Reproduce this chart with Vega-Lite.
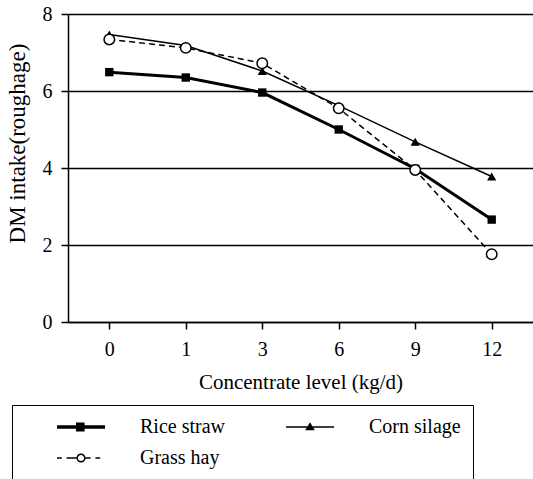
{
  "$schema": "https://vega.github.io/schema/vega-lite/v6.json",
  "width": 465,
  "height": 308,
  "autosize": {"type": "none"},
  "padding": {"left": 68, "top": 14, "right": 0, "bottom": 157},
  "background": "white",
  "config": {
    "view": {"stroke": null},
    "font": "Liberation Serif",
    "axis": {
      "labelFont": "Liberation Serif",
      "titleFont": "Liberation Serif",
      "labelColor": "black",
      "titleColor": "black",
      "titleFontWeight": "normal",
      "domainColor": "black",
      "domainWidth": 1.5,
      "tickColor": "black",
      "tickWidth": 1.5,
      "tickSize": 7
    }
  },
  "data": {
    "values": [
      {"level": 0, "series": "Rice straw", "intake": 6.49},
      {"level": 1, "series": "Rice straw", "intake": 6.35},
      {"level": 3, "series": "Rice straw", "intake": 5.96},
      {"level": 6, "series": "Rice straw", "intake": 5.0},
      {"level": 9, "series": "Rice straw", "intake": 3.98},
      {"level": 12, "series": "Rice straw", "intake": 2.66},
      {"level": 0, "series": "Corn silage", "intake": 7.47},
      {"level": 1, "series": "Corn silage", "intake": 7.18},
      {"level": 3, "series": "Corn silage", "intake": 6.52},
      {"level": 6, "series": "Corn silage", "intake": 5.62},
      {"level": 9, "series": "Corn silage", "intake": 4.68},
      {"level": 12, "series": "Corn silage", "intake": 3.78},
      {"level": 0, "series": "Grass hay", "intake": 7.34},
      {"level": 1, "series": "Grass hay", "intake": 7.12},
      {"level": 3, "series": "Grass hay", "intake": 6.72},
      {"level": 6, "series": "Grass hay", "intake": 5.55},
      {"level": 9, "series": "Grass hay", "intake": 3.95},
      {"level": 12, "series": "Grass hay", "intake": 1.76}
    ]
  },
  "encoding": {
    "x": {
      "field": "level",
      "type": "ordinal",
      "scale": {"type": "point", "padding": 0.54},
      "axis": {
        "title": "Concentrate level (kg/d)",
        "labelAngle": 0,
        "labelFont": "Liberation Serif",
        "labelFontSize": 20,
        "labelPadding": 10,
        "grid": false,
        "titleFont": "Liberation Serif",
        "titleFontSize": 21,
        "titleY": 60,
        "titleBaseline": "middle"
      }
    },
    "y": {
      "field": "intake",
      "type": "quantitative",
      "scale": {"domain": [0, 8], "nice": false},
      "axis": {
        "title": "DM intake(roughage)",
        "values": [0, 2, 4, 6, 8],
        "grid": true,
        "gridColor": "black",
        "gridWidth": 1.3,
        "gridOpacity": 1,
        "labelFont": "Liberation Serif",
        "labelFontSize": 20,
        "labelPadding": 9,
        "titleFont": "Liberation Serif",
        "titleFontSize": 23,
        "titleAngle": -90,
        "titleX": -51,
        "titleY": 129,
        "titleAlign": "center",
        "titleBaseline": "middle"
      }
    }
  },
  "layer": [
    {
      "transform": [{"filter": "datum.series == 'Rice straw'"}],
      "mark": {"type": "line", "color": "black", "strokeWidth": 3}
    },
    {
      "transform": [{"filter": "datum.series == 'Corn silage'"}],
      "mark": {"type": "line", "color": "black", "strokeWidth": 1.5}
    },
    {
      "transform": [{"filter": "datum.series == 'Grass hay'"}],
      "mark": {"type": "line", "color": "black", "strokeWidth": 1.5, "strokeDash": [6, 4]}
    },
    {
      "transform": [{"filter": "datum.series == 'Rice straw'"}],
      "mark": {"type": "point", "shape": "square", "size": 70, "filled": true, "color": "black", "opacity": 1}
    },
    {
      "transform": [{"filter": "datum.series == 'Corn silage'"}],
      "mark": {"type": "point", "shape": "triangle-up", "size": 85, "filled": true, "color": "black", "opacity": 1}
    },
    {
      "transform": [{"filter": "datum.series == 'Grass hay'"}],
      "mark": {"type": "point", "shape": "circle", "size": 110, "filled": false, "fill": "white", "stroke": "black", "strokeWidth": 1.5, "opacity": 1}
    },
    {
      "mark": {"type": "point", "filled": true, "color": "black", "opacity": 0, "size": 2304},
      "encoding": {
        "shape": {
          "field": "series",
          "type": "nominal",
          "scale": {
            "domain": ["Rice straw", "Corn silage", "Grass hay"],
            "range": [
              "M-1,-0.075H1V0.075H-1ZM-0.21,-0.19H0.15V0.19H-0.21Z",
              "M-1,-0.03H1V0.03H-1ZM0,-0.2L0.2,0.14L-0.2,0.14Z",
              "M-1,-0.03H-0.8V0.03H-1ZM-0.6,-0.03H-0.19V0.03H-0.6ZM0.19,-0.03H0.4V0.03H0.19ZM0.6,-0.03H0.8V0.03H0.6ZM0.19,0A0.19,0.19 0 1,1 -0.19,0A0.19,0.19 0 1,1 0.19,0ZM0.13,0A0.13,0.13 0 1,0 -0.13,0A0.13,0.13 0 1,0 0.13,0Z"
            ]
          },
          "legend": {
            "title": null,
            "orient": "none",
            "direction": "horizontal",
            "legendX": -56,
            "legendY": 391,
            "columns": 2,
            "columnPadding": 28,
            "rowPadding": 11,
            "padding": 12,
            "strokeColor": "black",
            "symbolSize": 2304,
            "symbolOffset": 33,
            "labelOffset": 35,
            "clipHeight": 20,
            "labelFont": "Liberation Serif",
            "labelFontSize": 20,
            "labelColor": "black",
            "labelLimit": 400,
            "symbolStrokeWidth": 0,
            "symbolFillColor": "black",
            "symbolOpacity": 1,
            "labelExpr": "datum.label == 'Corn silage' ? datum.label + '\u00a0\u00a0\u00a0\u00a0\u00a0\u00a0\u00a0\u00a0\u00a0\u00a0\u00a0\u00a0\u00a0\u00a0\u00a0\u00a0\u00a0\u00a0\u00a0\u00a0\u00a0\u00a0' : datum.label"
          }
        }
      }
    }
  ]
}
